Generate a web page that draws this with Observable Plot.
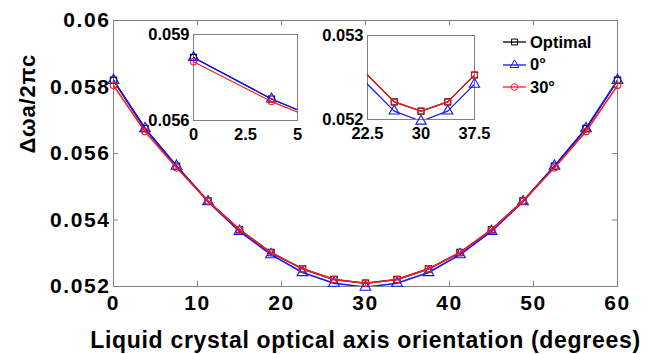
<!DOCTYPE html>
<html>
<head>
<meta charset="utf-8">
<script src="https://cdn.jsdelivr.net/npm/d3@7"></script>
<script src="https://cdn.jsdelivr.net/npm/@observablehq/plot@0.6"></script>
<style>
  html, body { margin: 0; padding: 0; background: white; }
  #chart { position: relative; width: 646px; height: 354px; font-family: Arial, "Liberation Sans", sans-serif; }
  #chart > div.layer { position: absolute; }
  .legend { position: absolute; left: 503px; top: 31px; font-weight: bold; font-size: 16.5px; color: #000; }
  .legend .row { display: flex; align-items: center; height: 22.5px; }
  .legend svg { margin-right: 3px; }
</style>
</head>
<body>
<div id="chart"></div>
<script>
// ---- data ----
const orientation = [0, 3.75, 7.5, 11.25, 15, 18.75, 22.5, 26.25, 30, 33.75, 37.5, 41.25, 45, 48.75, 52.5, 56.25, 60];
const optimal = [0.05820, 0.05675, 0.05562, 0.05457, 0.05371, 0.05302, 0.05253, 0.05221, 0.05210, 0.05221, 0.05253, 0.05302, 0.05371, 0.05457, 0.05562, 0.05675, 0.05820];
const deg0    = [0.05820, 0.05675, 0.05562, 0.05455, 0.05366, 0.05296, 0.05242, 0.05210, 0.05198, 0.05210, 0.05242, 0.05296, 0.05366, 0.05455, 0.05562, 0.05675, 0.05820];
const deg30   = [0.05805, 0.05666, 0.05557, 0.05457, 0.05371, 0.05302, 0.05253, 0.05221, 0.05210, 0.05221, 0.05253, 0.05302, 0.05371, 0.05457, 0.05557, 0.05666, 0.05805];

const seriesNames = ["Optimal", "0°", "30°"];
const seriesColors = ["#000000", "#1414ff", "#ff1a1a"];
const seriesSymbols = ["square", "triangle", "circle"];

const xTicks = [0, 10, 20, 30, 40, 50, 60];
const yTicks = [0.052, 0.054, 0.056, 0.058, 0.06];
const inset1XTicks = [0, 2.5, 5];
const inset1YTicks = [0.056, 0.059];
const inset2XTicks = [22.5, 30, 37.5];
const inset2YTicks = [0.052, 0.053];

const xLabel = "Liquid crystal optical axis orientation (degrees)";
const yLabel = "Δωa/2πc";

// ---- build table ----
const seriesValues = [optimal, deg0, deg30];
const rows = [];
seriesNames.forEach((name, i) => {
  orientation.forEach((x, j) => rows.push({series: name, x, y: seriesValues[i][j]}));
});

const font = 'Arial, "Liberation Sans", sans-serif';
const frameColor = "#808080";

function seriesMarks(data, lineWidth, dotData, sizes) {
  const marks = [];
  seriesNames.forEach((name, i) => {
    marks.push(Plot.line(data.filter(d => d.series === name), {x: "x", y: "y", stroke: seriesColors[i], strokeWidth: lineWidth, clip: true}));
    marks.push(Plot.dot(dotData.filter(d => d.series === name), {x: "x", y: "y", stroke: seriesColors[i], fill: "none", symbol: seriesSymbols[i], r: sizes[i], strokeWidth: 1.1}));
  });
  return marks;
}

const chart = document.getElementById("chart");

// ---- main plot ----
const main = Plot.plot({
  width: 646, height: 354,
  marginLeft: 113, marginRight: 29, marginTop: 20, marginBottom: 68,
  style: {fontFamily: font, background: "white", color: "black"},
  x: {domain: [0, 60], label: null},
  y: {domain: [0.052, 0.06], label: null},
  marks: [
    Plot.frame({stroke: frameColor}),
    Plot.tickX(xTicks.slice(1, -1), {x: d => d, insetTop: 261, stroke: frameColor}),
    Plot.tickX(xTicks.slice(1, -1), {x: d => d, insetBottom: 261, stroke: frameColor}),
    Plot.tickY(yTicks.slice(1, -1), {y: d => d, insetRight: 499, stroke: frameColor}),
    Plot.tickY(yTicks.slice(1, -1), {y: d => d, insetLeft: 499, stroke: frameColor}),
    Plot.axisX(xTicks, {tickSize: 0, tickPadding: 9, fontSize: 21, fontWeight: "bold", tickFormat: d => String(d), label: null}),
    Plot.axisY(yTicks, {tickSize: 0, tickPadding: 3, fontSize: 21, fontWeight: "bold", tickFormat: d => String(d), label: null}),
    ...seriesMarks(rows, 1.6, rows, [3.6, 4, 3.3]),
    Plot.text([xLabel], {text: d => d, frameAnchor: "bottom", dy: 54, fontSize: 23, fontWeight: "bold", lineAnchor: "middle"}),
    Plot.text([yLabel], {text: d => d, frameAnchor: "left", dx: -86, rotate: -90, fontSize: 22, fontWeight: "bold", lineAnchor: "middle"})
  ]
});
d3.select(main).selectAll("text").each(function() {
  const s = this.textContent;
  if (s === xLabel) this.style.letterSpacing = "0.7px";
  else if (s === yLabel) this.style.letterSpacing = "0.8px";
  else this.style.letterSpacing = "1.6px";
});
chart.appendChild(main);

// ---- insets ----
function inset(left, top, width, height, margins, xDomain, yDomain, xt, yt, dotFilter) {
  const dots = rows.filter(dotFilter);
  const p = Plot.plot({
    width, height,
    marginLeft: margins[0], marginRight: margins[1], marginTop: margins[2], marginBottom: margins[3],
    style: {fontFamily: font, background: "transparent", color: "black", overflow: "visible"},
    x: {domain: xDomain, label: null},
    y: {domain: yDomain, label: null},
    marks: [
      Plot.frame({stroke: frameColor, fill: "white"}),
      Plot.axisX(xt, {tickSize: 0, tickPadding: 8, fontSize: 16.5, fontWeight: "bold", tickFormat: d => String(d), label: null}),
      Plot.axisY(yt, {tickSize: 0, tickPadding: 4, fontSize: 16.5, fontWeight: "bold", tickFormat: d => String(d), label: null}),
      ...seriesMarks(rows, 1.2, dots, [3.4, 3.8, 3.1])
    ]
  });
  const wrap = document.createElement("div");
  wrap.className = "layer";
  wrap.style.left = left + "px";
  wrap.style.top = top + "px";
  wrap.appendChild(p);
  chart.appendChild(wrap);
}

inset(150, 20, 155, 125, [43, 8, 14, 25], [0, 5], [0.056, 0.059], inset1XTicks, inset1YTicks,
  d => d.x >= 0 && d.x <= 5);
inset(320, 20, 165, 125, [47, 11, 15, 26], [22.5, 37.5], [0.052, 0.053], inset2XTicks, inset2YTicks,
  d => d.x > 22.5 && d.x <= 37.5);

// ---- legend ----
const legend = document.createElement("div");
legend.className = "legend";
seriesNames.forEach((name, i) => {
  const row = document.createElement("div");
  row.className = "row";
  const svg = d3.create("svg").attr("width", 24).attr("height", 12);
  svg.append("line").attr("x1", 0).attr("x2", 23).attr("y1", 6).attr("y2", 6)
    .attr("stroke", seriesColors[i]).attr("stroke-width", 1.3);
  const sym = d3.symbol().type({square: d3.symbolSquare, triangle: d3.symbolTriangle, circle: d3.symbolCircle}[seriesSymbols[i]]).size(34);
  svg.append("path").attr("d", sym()).attr("transform", "translate(11.5,6)")
    .attr("fill", "none").attr("stroke", seriesColors[i]).attr("stroke-width", 1);
  row.appendChild(svg.node());
  const t = document.createElement("span");
  t.textContent = name;
  row.appendChild(t);
  legend.appendChild(row);
});
chart.appendChild(legend);
</script>
</body>
</html>
